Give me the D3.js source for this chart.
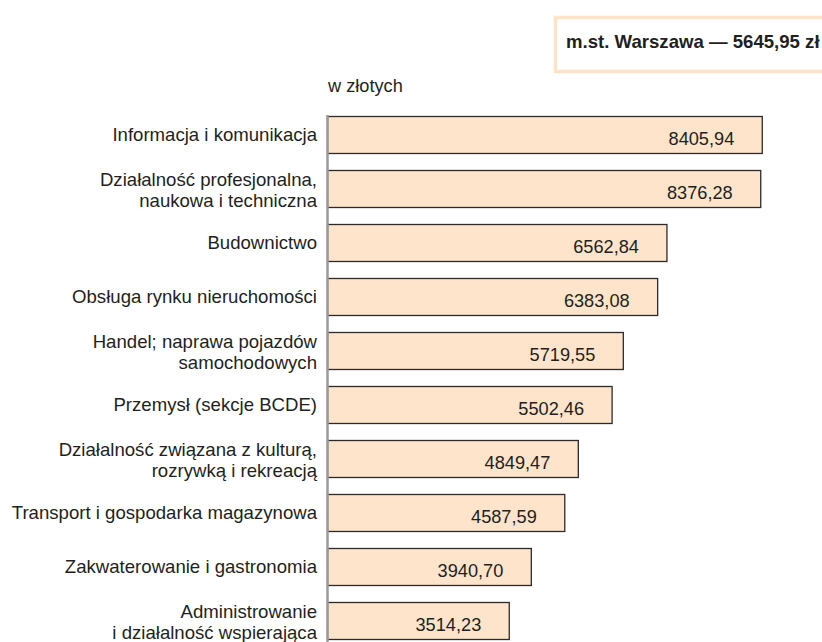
<!DOCTYPE html>
<html>
<head>
<meta charset="utf-8">
<script src="https://cdn.jsdelivr.net/npm/d3@7"></script>
<style>
  body { margin: 0; background: #fff; }
  text { font-family: "Liberation Sans", Arial, Helvetica, sans-serif; fill: #231f20; }
</style>
</head>
<body>
<div id="chart"></div>
<script>
// data
var categories = [
    "Informacja i komunikacja",
    "Działalność profesjonalna,\nnaukowa i techniczna",
    "Budownictwo",
    "Obsługa rynku nieruchomości",
    "Handel; naprawa pojazdów\nsamochodowych",
    "Przemysł (sekcje BCDE)",
    "Działalność związana z kulturą,\nrozrywką i rekreacją",
    "Transport i gospodarka magazynowa",
    "Zakwaterowanie i gastronomia",
    "Administrowanie\ni działalność wspierająca"
];
var values = [8405.94, 8376.28, 6562.84, 6383.08, 5719.55, 5502.46, 4849.47, 4587.59, 3940.70, 3514.23];
var unitLabel = "w złotych";
var regionLabel = "m.st. Warszawa — 5645,95 zł";

var svgWidth = 822;
var svgHeight = 642;

var data = categories.map(function(c, i) {
    return { name: c, value: values[i] };
});

var pl = d3.formatLocale({ decimal: ",", thousands: " ", grouping: [3], currency: ["", " zł"] });
var fmt = pl.format(".2f");

var svg = d3.select("#chart")
    .append("svg")
    .attr("width", svgWidth)
    .attr("height", svgHeight);

// scales
var x = d3.scaleLinear()
    .domain([0, 9000])
    .range([327.5, 793]);

var y = d3.scaleBand()
    .domain(categories)
    .range([107.5, 647.5])
    .paddingInner(0.315)
    .paddingOuter(0.1575);

// region box (top right)
svg.append("rect")
    .attr("x", 555.5)
    .attr("y", 17.5)
    .attr("width", 300)
    .attr("height", 54)
    .attr("fill", "none")
    .attr("stroke", "#fde3c8")
    .attr("stroke-width", 3.5);

svg.append("text")
    .attr("x", 566)
    .attr("y", 47.5)
    .style("font-size", "18.6px")
    .style("font-weight", "bold")
    .text(regionLabel);

// unit label
svg.append("text")
    .attr("x", 328)
    .attr("y", 91.5)
    .style("font-size", "18.2px")
    .text(unitLabel);

// bars
svg.append("g")
    .selectAll("rect")
    .data(data)
    .enter()
    .append("rect")
    .attr("x", x(0))
    .attr("y", d => Math.round(y(d.name)) + 0.5)
    .attr("width", d => x(d.value) - x(0))
    .attr("height", y.bandwidth())
    .attr("fill", "#fde4ca")
    .attr("stroke", "#2e2a2b")
    .attr("stroke-width", 1.3);

// value labels
svg.append("g")
    .selectAll("text")
    .data(data)
    .enter()
    .append("text")
    .attr("x", d => x(d.value) - 28)
    .attr("y", d => y(d.name) + y.bandwidth() / 2 + 10)
    .attr("text-anchor", "end")
    .style("font-size", "18.2px")
    .text(d => fmt(d.value));

// category labels
var labels = svg.append("g")
    .selectAll("text")
    .data(data)
    .enter()
    .append("text")
    .attr("text-anchor", "end")
    .style("font-size", "18.6px")
    .attr("y", function(d) {
        var mid = y(d.name) + y.bandwidth() / 2;
        return d.name.indexOf("\n") >= 0 ? mid - 2.5 : mid + 6;
    });

labels.each(function(d) {
    var t = d3.select(this);
    d.name.split("\n").forEach(function(line, i) {
        t.append("tspan")
            .attr("x", 317)
            .attr("dy", i === 0 ? 0 : 20.5)
            .text(line);
    });
});

// vertical axis line
svg.append("line")
    .attr("x1", x(0))
    .attr("x2", x(0))
    .attr("y1", y(categories[0]) - 1)
    .attr("y2", svgHeight)
    .attr("stroke", "#9b9b9b")
    .attr("stroke-width", 2.5);
</script>
</body>
</html>
